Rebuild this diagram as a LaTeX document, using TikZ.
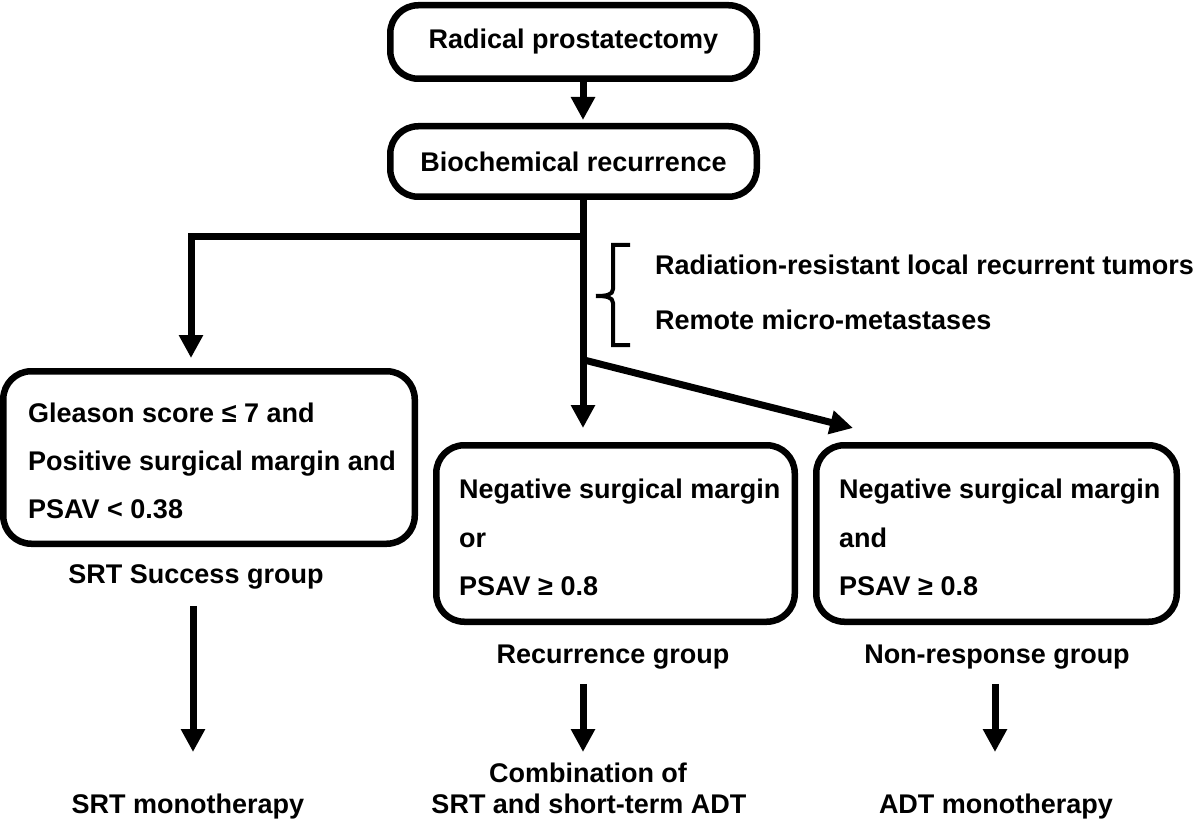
\documentclass[tikz,border=0pt]{standalone}
\usepackage{fontspec}
\setmainfont{Liberation Sans}
\usetikzlibrary{arrows.meta,calc}
\begin{document}
\begin{tikzpicture}[x=1pt,y=-1pt,
  every node/.style={font=\fontsize{27}{32}\selectfont\bfseries, inner sep=0pt},
  box/.style={draw, line width=6.5pt, rounded corners=28pt},
  arr/.style={line width=7pt, -{Triangle[width=23pt,length=23pt]}},
  brace/.style={line width=4pt}]
\useasboundingbox (0,0) rectangle (1200,821);

% top boxes
\node[box, minimum width=366.5pt, minimum height=73.5pt] (b1) at (573.5,42) {Radical prostatectomy};
\node[box, minimum width=366.5pt, minimum height=70.5pt] (b2) at (573.5,161.5) {Biochemical recurrence};

% condition boxes
\node[box, minimum width=411.5pt, minimum height=172.5pt] (g) at (209,457.5) {};
\node[box, minimum width=358.5pt, minimum height=176.5pt] (m) at (615.5,533.5) {};
\node[box, minimum width=360.5pt, minimum height=176.5pt] (r) at (996.5,533.5) {};

\node[anchor=base west] (g1) at (28,422) {Gleason score ≤ 7 and};
\node[anchor=base west] (g2) at (28,470) {Positive surgical margin and};
\node[anchor=base west] (g3) at (28,518) {PSAV < 0.38};

\node[anchor=base west] (m1) at (459,498) {Negative surgical margin};
\node[anchor=base west] (m2) at (459,547) {or};
\node[anchor=base west] (m3) at (459,595) {PSAV ≥ 0.8};

\node[anchor=base west] (r1) at (839,498) {Negative surgical margin};
\node[anchor=base west] (r2) at (839,547) {and};
\node[anchor=base west] (r3) at (839,595) {PSAV ≥ 0.8};

% group labels
\node[anchor=base] (lg) at (196,583) {SRT Success group};
\node[anchor=base] (lm) at (613,663) {Recurrence group};
\node[anchor=base] (lr) at (997,663) {Non-response group};

% therapies
\node[anchor=base] (ta) at (188,813) {SRT monotherapy};
\node[anchor=base] (tb1) at (588,782) {Combination of};
\node[anchor=base] (tb2) at (589,813) {SRT and short-term ADT};
\node[anchor=base] (tc) at (996,813) {ADT monotherapy};

% bracket notes
\node[anchor=base west] (q1) at (655,275) {Radiation-resistant local recurrent tumors};
\node[anchor=base west] (q2) at (655,330) {Remote micro-metastases};
\draw[brace] (630,245) -- (613,245) -- (613,289) .. controls (613,295) and (606,296) .. (596,296);
\draw[brace] (596,296) .. controls (606,296) and (613,297) .. (613,303) -- (613,345) -- (630,345);

% connectors
\coordinate (tx) at (583,0);
\coordinate (j1) at (583,236.5);
\coordinate (j2) at (584,360);
\coordinate (tm) at (583,428);
\coordinate (tl) at (191,358);
\coordinate (tr) at (853,428);
\coordinate (ea) at (193,752);
\coordinate (eb) at (583,752);
\coordinate (ec) at (995,752);

\draw[arr, shorten >=3pt] (b1.south -| tx) -- (b2.north -| tx);
\draw[arr] (b2.south -| tx) -- (tm);
\draw[arr] (j1) -| (tl);
\draw[arr] (j2) -- (tr);

\draw[arr] ($(lg.south -| ea)+(0,17)$) -- (ea);
\draw[arr] ($(lm.south -| eb)+(0,15)$) -- (eb);
\draw[arr] ($(lr.south -| ec)+(0,15)$) -- (ec);
\end{tikzpicture}
\end{document}
